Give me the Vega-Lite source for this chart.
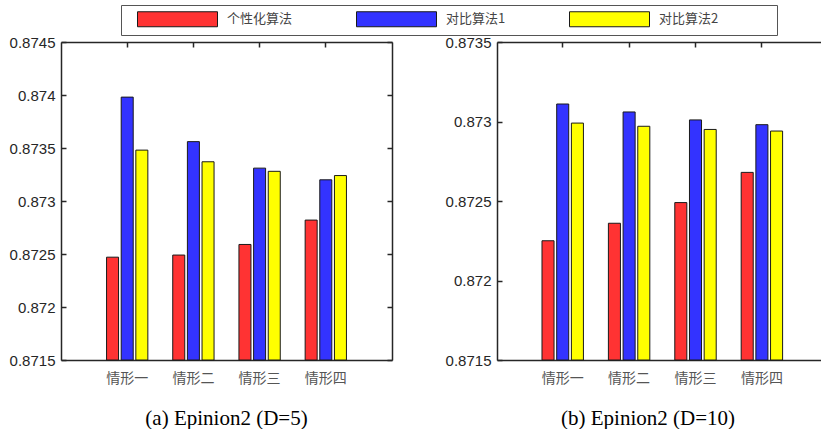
{
  "$schema": "https://vega.github.io/schema/vega-lite/v6.json",
  "padding": {"left": 9, "top": 4, "right": 0, "bottom": 0},
  "datasets": {
    "d": [
      {"panel": "a", "case": "情形一", "algo": "个性化算法", "value": 0.87247},
      {"panel": "a", "case": "情形一", "algo": "对比算法1", "value": 0.87398},
      {"panel": "a", "case": "情形一", "algo": "对比算法2", "value": 0.87348},
      {"panel": "a", "case": "情形二", "algo": "个性化算法", "value": 0.87249},
      {"panel": "a", "case": "情形二", "algo": "对比算法1", "value": 0.87356},
      {"panel": "a", "case": "情形二", "algo": "对比算法2", "value": 0.87337},
      {"panel": "a", "case": "情形三", "algo": "个性化算法", "value": 0.87259},
      {"panel": "a", "case": "情形三", "algo": "对比算法1", "value": 0.87331},
      {"panel": "a", "case": "情形三", "algo": "对比算法2", "value": 0.87328},
      {"panel": "a", "case": "情形四", "algo": "个性化算法", "value": 0.87282},
      {"panel": "a", "case": "情形四", "algo": "对比算法1", "value": 0.8732},
      {"panel": "a", "case": "情形四", "algo": "对比算法2", "value": 0.87324},
      {"panel": "b", "case": "情形一", "algo": "个性化算法", "value": 0.87225},
      {"panel": "b", "case": "情形一", "algo": "对比算法1", "value": 0.87311},
      {"panel": "b", "case": "情形一", "algo": "对比算法2", "value": 0.87299},
      {"panel": "b", "case": "情形二", "algo": "个性化算法", "value": 0.87236},
      {"panel": "b", "case": "情形二", "algo": "对比算法1", "value": 0.87306},
      {"panel": "b", "case": "情形二", "algo": "对比算法2", "value": 0.87297},
      {"panel": "b", "case": "情形三", "algo": "个性化算法", "value": 0.87249},
      {"panel": "b", "case": "情形三", "algo": "对比算法1", "value": 0.87301},
      {"panel": "b", "case": "情形三", "algo": "对比算法2", "value": 0.87295},
      {"panel": "b", "case": "情形四", "algo": "个性化算法", "value": 0.87268},
      {"panel": "b", "case": "情形四", "algo": "对比算法1", "value": 0.87298},
      {"panel": "b", "case": "情形四", "algo": "对比算法2", "value": 0.87294}
    ]
  },
  "data": {"name": "d"},
  "bounds": "flush",
  "spacing": 105,
  "hconcat": [
    {
      "width": 331,
      "height": 318,
      "transform": [{"filter": "datum.panel == 'a'"}],
      "title": {"text": "(a) Epinion2 (D=5)", "orient": "bottom", "dx": 0, "offset": 23},
      "layer": [
        {
          "mark": {"type": "bar", "stroke": "#1a1a1a", "strokeWidth": 1},
          "encoding": {
            "x": {"field": "case", "type": "nominal", "sort": ["情形一", "情形二", "情形三", "情形四"],
                  "scale": {"paddingInner": 0, "paddingOuter": 0.5},
                  "axis": {"orient": "bottom", "title": null, "labelAngle": 0, "ticks": false, "labelPadding": 11}},
            "xOffset": {"field": "algo", "sort": ["个性化算法", "对比算法1", "对比算法2"],
                        "scale": {"paddingInner": 0.18, "paddingOuter": 0.85}},
            "y": {"field": "value", "type": "quantitative",
                  "scale": {"domain": [0.8715, 0.8745], "zero": false, "nice": false},
                  "axis": {"orient": "left", "title": null, "values": [0.8715, 0.872, 0.8725, 0.873, 0.8735, 0.874, 0.8745], "format": ".4~f", "tickSize": -5, "labelPadding": 11}},
            "y2": {"datum": 0.8715},
            "color": {"field": "algo", "type": "nominal",
                      "scale": {"domain": ["个性化算法", "对比算法1", "对比算法2"], "range": ["#FF3333", "#3333FF", "#FFFF00"]},
                      "legend": {"orient": "none", "legendX": 60, "legendY": -37, "direction": "horizontal", "columns": 3, "title": null,
                                 "symbolType": "M-1,-1H9.6667V1H-1Z", "symbolSize": 225, "symbolStrokeColor": "#222", "symbolStrokeWidth": 1, "symbolOpacity": 1,
                                 "symbolOffset": 10,
                                 "labelFont": "Noto Sans CJK SC", "labelFontSize": 13, "labelColor": "#444", "labelOffset": 74,
                                 "labelExpr": "datum.label == '对比算法2' ? datum.label + '\u3000\u3000\u3000\u3000\u200b' : datum.label",
                                 "columnPadding": 53, "gridAlign": "each", "strokeColor": "#555", "fillColor": "white", "padding": 6}}
          }
        },
        {
          "mark": {"type": "point", "opacity": 0},
          "encoding": {
            "x": {"field": "case", "type": "nominal", "sort": ["情形一", "情形二", "情形三", "情形四"],
                  "axis": {"orient": "top", "title": null, "labels": false, "tickSize": -5}},
            "y": {"field": "value", "type": "quantitative",
                  "axis": {"orient": "right", "title": null, "labels": false, "values": [0.8715, 0.872, 0.8725, 0.873, 0.8735, 0.874, 0.8745], "tickSize": -5}}
          }
        }
      ],
      "resolve": {"axis": {"x": "independent", "y": "independent"}}
    },
    {
      "width": 324,
      "height": 318,
      "transform": [{"filter": "datum.panel == 'b'"}],
      "title": {"text": "(b) Epinion2 (D=10)", "orient": "bottom", "dx": -11, "offset": 23},
      "layer": [
        {
          "mark": {"type": "bar", "stroke": "#1a1a1a", "strokeWidth": 1},
          "encoding": {
            "x": {"field": "case", "type": "nominal", "sort": ["情形一", "情形二", "情形三", "情形四"],
                  "scale": {"paddingInner": 0, "paddingOuter": 0.44, "align": 0.5565},
                  "axis": {"orient": "bottom", "title": null, "labelAngle": 0, "ticks": false, "labelPadding": 11}},
            "xOffset": {"field": "algo", "sort": ["个性化算法", "对比算法1", "对比算法2"],
                        "scale": {"paddingInner": 0.18, "paddingOuter": 0.85}},
            "y": {"field": "value", "type": "quantitative",
                  "scale": {"domain": [0.8715, 0.8735], "zero": false, "nice": false},
                  "axis": {"orient": "left", "title": null, "values": [0.8715, 0.872, 0.8725, 0.873, 0.8735], "format": ".4~f", "tickSize": -5, "labelPadding": 11}},
            "y2": {"datum": 0.8715},
            "color": {"field": "algo", "type": "nominal"}
          }
        },
        {
          "mark": {"type": "point", "opacity": 0},
          "encoding": {
            "x": {"field": "case", "type": "nominal", "sort": ["情形一", "情形二", "情形三", "情形四"],
                  "axis": {"orient": "top", "title": null, "labels": false, "tickSize": -5}},
            "y": {"field": "value", "type": "quantitative", "axis": null}
          }
        }
      ],
      "resolve": {"axis": {"x": "independent", "y": "independent"}}
    }
  ],
  "resolve": {"scale": {"x": "independent", "y": "independent", "xOffset": "independent", "color": "shared"}, "legend": {"color": "shared"}},
  "config": {
    "view": {"stroke": null},
    "font": "Liberation Sans",
    "title": {"font": "Liberation Serif", "fontSize": 21, "fontWeight": "normal", "color": "#000000"},
    "axis": {"domainColor": "#262626", "domainWidth": 1.5, "tickColor": "#262626", "tickWidth": 1.5, "labelFont": "Liberation Sans", "labelFontSize": 15, "labelColor": "#262626", "grid": false},
    "axisX": {"labelFont": "Noto Sans CJK SC", "labelFontSize": 14, "labelColor": "#555555"}
  }
}
